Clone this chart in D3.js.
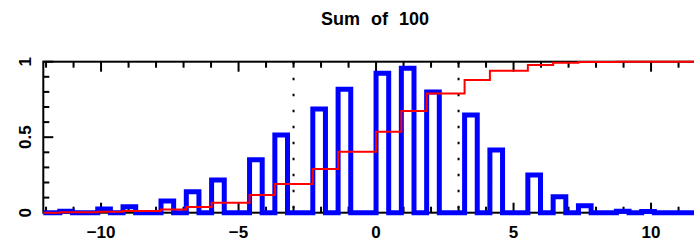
<!DOCTYPE html>
<html>
    <head>
        <title>Sum of 100</title>
        <script src="https://d3js.org/d3.v7.min.js"></script>
        <style>
            body { margin: 0; background: #fff; }
            text { font-family: 'Liberation Sans', Arial, sans-serif; font-weight: bold; }
        </style>
    </head>
    <body>
        <svg id="chart" width="694" height="242"></svg>
        <script>
            // histogram bins (left edge), bin width, normalised counts
            var binStarts = [-11.5, -10.12, -9.2, -7.82, -6.9, -5.98, -4.6, -3.68, -2.3, -1.38,
                             0, 0.92, 1.84, 3.22, 4.14, 5.52, 6.44, 7.36, 8.74, 9.66];
            var binWidth = 0.46;
            var counts = [0.01, 0.025, 0.04, 0.077, 0.139, 0.217, 0.35, 0.515, 0.687, 0.817,
                          0.923, 0.956, 0.80, 0.647, 0.415, 0.25, 0.106, 0.046, 0.01, 0.008];
            // cumulative level after each bin
            var cumulative = [0.003, 0.007, 0.012, 0.022, 0.037, 0.066, 0.117, 0.19, 0.289, 0.404,
                              0.536, 0.673, 0.79, 0.879, 0.94, 0.978, 0.993, 0.998, 0.999, 1.0];
            var markers = [-3, 3];
            var xTickValues = [-10, -5, 0, 5, 10];
            var xTickLabels = ['\u221210', '\u22125', '0', '5', '10'];
            var yTickValues = [0, 0.5, 1];
            var yTickLabels = ['0', '0.5', '1'];

            var svg = d3.select('#chart');
            var x = d3.scaleLinear().domain([-12.1, 12.1]).range([43.3, 708.8]);
            var y = d3.scaleLinear().domain([0, 1]).range([212.7, 61.7]);
            var xd = x.domain();

            svg.append('text')
                .attr('x', 375).attr('y', 25)
                .attr('text-anchor', 'middle')
                .style('font-size', '18px')
                .style('word-spacing', '6px')
                .text('Sum of 100');

            // frame
            svg.append('rect')
                .attr('x', x(xd[0])).attr('y', y(1))
                .attr('width', x(xd[1]) - x(xd[0])).attr('height', y(0) - y(1))
                .attr('fill', 'none').attr('stroke', '#000').attr('stroke-width', 2);

            // x ticks, every unit, longer at labelled values
            var xMinor = d3.range(-12, 13, 1);
            xMinor.forEach(function (v) {
                var len = xTickValues.indexOf(v) >= 0 ? 10 : 6;
                svg.append('line').attr('x1', x(v)).attr('x2', x(v))
                    .attr('y1', y(0)).attr('y2', y(0) - len)
                    .attr('stroke', '#000').attr('stroke-width', 2);
                svg.append('line').attr('x1', x(v)).attr('x2', x(v))
                    .attr('y1', y(1)).attr('y2', y(1) + len)
                    .attr('stroke', '#000').attr('stroke-width', 2);
            });
            d3.range(0, 1.01, 0.1).forEach(function (v) {
                var major = Math.abs(v * 2 - Math.round(v * 2)) < 1e-6;
                svg.append('line').attr('x1', x(xd[0])).attr('x2', x(xd[0]) + (major ? 10 : 6))
                    .attr('y1', y(v)).attr('y2', y(v))
                    .attr('stroke', '#000').attr('stroke-width', 2);
            });

            svg.selectAll('.xlab').data(xTickValues).enter().append('text')
                .attr('x', (d) => x(d)).attr('y', 238)
                .attr('text-anchor', 'middle')
                .style('font-size', '17px')
                .text((d, i) => xTickLabels[i]);

            svg.selectAll('.ylab').data(yTickValues).enter().append('text')
                .attr('transform', (d) => 'translate(31,' + y(d) + ') rotate(-90)')
                .attr('text-anchor', 'middle')
                .style('font-size', '17px')
                .text((d, i) => yTickLabels[i]);

            // dotted markers
            svg.selectAll('.marker').data(markers).enter().append('line')
                .attr('x1', (d) => x(d)).attr('x2', (d) => x(d))
                .attr('y1', y(1)).attr('y2', y(0))
                .attr('stroke', '#000').attr('stroke-width', 2)
                .attr('stroke-dasharray', '2.5,13.5');

            // histogram outline
            var pts = [[xd[0], 0]];
            binStarts.forEach(function (s, i) {
                pts.push([s, 0], [s, counts[i]], [s + binWidth, counts[i]], [s + binWidth, 0]);
            });
            pts.push([xd[1], 0]);
            var line = d3.line().x((d) => x(d[0])).y((d) => y(d[1]));
            svg.append('path').attr('d', line(pts))
                .attr('fill', 'none').attr('stroke', '#0000ff').attr('stroke-width', 5)
                .attr('stroke-linejoin', 'miter');

            // cumulative
            var cpts = [[xd[0], 0]].concat(binStarts.map((s, i) => [s, cumulative[i]]));
            cpts.push([xd[1], 1]);
            var step = d3.line().curve(d3.curveStepAfter).x((d) => x(d[0])).y((d) => y(d[1]));
            svg.append('path').attr('d', step(cpts))
                .attr('fill', 'none').attr('stroke', '#ff0000').attr('stroke-width', 2);
        </script>
    </body>
</html>
